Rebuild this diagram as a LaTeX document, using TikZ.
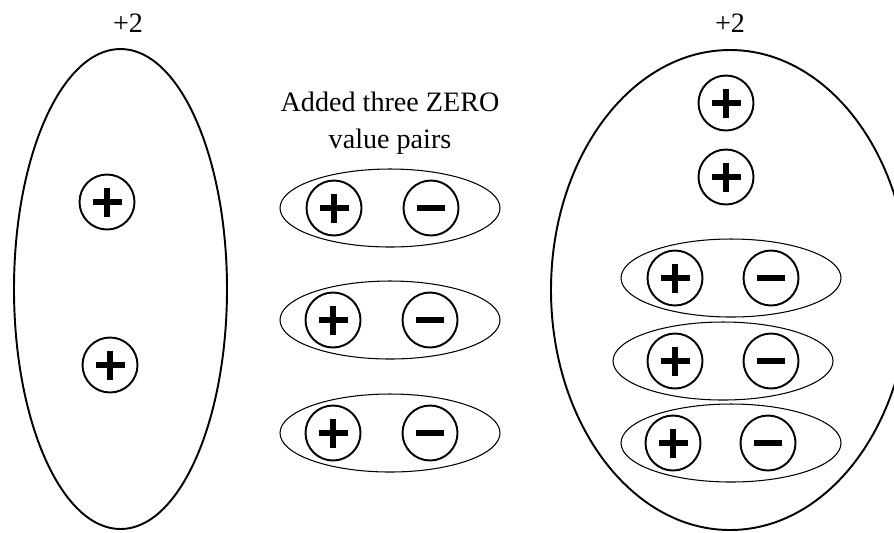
\documentclass[tikz,border=0pt]{standalone}
\usepackage{fontspec}
\setmainfont{Liberation Serif}
\usepackage{tikz}
\usetikzlibrary{shapes.geometric,positioning}

\tikzset{
  signbar/.style={line width=3.2pt, line cap=butt}
}

\begin{document}
\begin{tikzpicture}[
  charge/.style={
    circle, draw, line width=1.1pt,
    minimum size=1.1cm, inner sep=0pt
  },
  poscharge/.style={
    charge,
    path picture={
      \draw[signbar]
        ([xshift=-0.29cm]path picture bounding box.center) -- ([xshift=0.29cm]path picture bounding box.center)
        ([yshift=-0.29cm]path picture bounding box.center) -- ([yshift=0.29cm]path picture bounding box.center);
    }
  },
  negcharge/.style={
    charge,
    path picture={
      \draw[signbar]
        ([xshift=-0.28cm]path picture bounding box.center) -- ([xshift=0.28cm]path picture bounding box.center);
    }
  },
  group/.style={
    ellipse, draw, line width=1.1pt, inner sep=0pt
  },
  pairring/.style={
    ellipse, draw, line width=0.6pt, inner sep=0pt,
    minimum width=4.4cm, minimum height=1.56cm
  },
  caption/.style={
    font=\fontsize{16}{21}\selectfont, align=center
  }
]
\useasboundingbox (0,0) rectangle (17.88,-10.64);

% Linke Gruppe
\node[caption] (ltotal) at (2.56, -0.46) {+2};
\node[group, minimum width=4.26cm, minimum height=9.6cm] (lgroup) at (2.41, -5.78) {};
\node[poscharge] (lpos1) at (2.14, -4.04) {};
\node[poscharge] (lpos2) at (2.20, -7.30) {};

% Mitte: Nullpaare
\node[caption] (mtext) at (7.8, -2.46) {Added three ZERO\\value pairs};
\node[pairring] (mpair1) at (7.8, -4.16) {};
\node[poscharge] (mpos1) at (6.68, -4.16) {};
\node[negcharge] (mneg1) at (8.62, -4.16) {};
\node[pairring] (mpair2) at (7.8, -6.40) {};
\node[poscharge] (mpos2) at (6.66, -6.40) {};
\node[negcharge] (mneg2) at (8.60, -6.40) {};
\node[pairring] (mpair3) at (7.8, -8.66) {};
\node[poscharge] (mpos3) at (6.66, -8.66) {};
\node[negcharge] (mneg3) at (8.60, -8.66) {};

% Rechte Gruppe
\node[caption] (rtotal) at (14.6, -0.46) {+2};
\node[group, minimum width=7.16cm, minimum height=9.6cm] (rgroup) at (14.6, -5.8) {};
\node[poscharge] (rpos1) at (14.52, -2.06) {};
\node[poscharge] (rpos2) at (14.52, -3.54) {};
\node[pairring] (rpair1) at (14.62, -5.56) {};
\node[poscharge] (rpos3) at (13.50, -5.56) {};
\node[negcharge] (rneg1) at (15.42, -5.56) {};
\node[pairring] (rpair2) at (14.46, -7.22) {};
\node[poscharge] (rpos4) at (13.50, -7.22) {};
\node[negcharge] (rneg2) at (15.42, -7.22) {};
\node[pairring] (rpair3) at (14.62, -8.86) {};
\node[poscharge] (rpos5) at (13.46, -8.86) {};
\node[negcharge] (rneg3) at (15.36, -8.86) {};

\end{tikzpicture}
\end{document}
